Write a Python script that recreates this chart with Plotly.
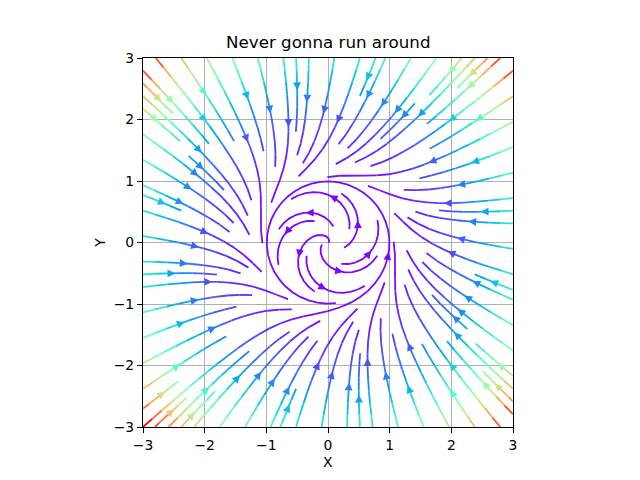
import numpy as np
import plotly.graph_objects as go

# ---- chart definition -------------------------------------------------
TITLE = "Never gonna run around"
X_LABEL = "X"
Y_LABEL = "Y"
X_RANGE = [-3.0, 3.0]
Y_RANGE = [-3.0, 3.0]
GRID_N = 100            # samples per axis of the vector field
DENSITY = 1.0           # streamline density
TICK_VALUES = [-3, -2, -1, 0, 1, 2, 3]
TICK_TEXT = ["\u22123", "\u22122", "\u22121", "0", "1", "2", "3"]
LIMIT_RADIUS = 1.0      # radius of the limit cycle

FONT = "DejaVu Sans"
LINE_WIDTH = 1.8

# ---- vector field -------------------------------------------------------
xs = np.linspace(X_RANGE[0], X_RANGE[1], GRID_N)
ys = np.linspace(Y_RANGE[0], Y_RANGE[1], GRID_N)
XX, YY = np.meshgrid(xs, ys)
R2 = XX ** 2 + YY ** 2
U = -YY + XX * (LIMIT_RADIUS ** 2 - R2)
V = XX + YY * (LIMIT_RADIUS ** 2 - R2)
SPEED = np.sqrt(U ** 2 + V ** 2)


# ---- streamline integration (matplotlib-style) -------------------------
class OutOfBounds(Exception):
    pass


class Terminate(Exception):
    pass


class InvalidIndex(Exception):
    pass


nx = ny = GRID_N
gdx = xs[1] - xs[0]
gdy = ys[1] - ys[0]
mnx = mny = int(30 * DENSITY)
mask = [[0] * mnx for _ in range(mny)]
x_g2m = (mnx - 1) / (nx - 1)
y_g2m = (mny - 1) / (ny - 1)

ug = U / gdx
vg = V / gdy
spd = np.sqrt((ug / (nx - 1)) ** 2 + (vg / (ny - 1)) ** 2)
UG = ug.tolist()
VG = vg.tolist()
SP = spd.tolist()
SC = SPEED.tolist()

state = {"cur": None, "traj": []}


def interp(a, xi, yi):
    x = int(xi)
    y = int(yi)
    xn = x if x == nx - 1 else x + 1
    yn = y if y == ny - 1 else y + 1
    xt = xi - x
    yt = yi - y
    a0 = a[y][x] * (1 - xt) + a[y][xn] * xt
    a1 = a[yn][x] * (1 - xt) + a[yn][xn] * xt
    return a0 * (1 - yt) + a1 * yt


def within(xi, yi):
    return 0 <= xi <= nx - 1 and 0 <= yi <= ny - 1


def g2m(xi, yi):
    return round(xi * x_g2m), round(yi * y_g2m)


def mask_update(xm, ym):
    if state["cur"] != (xm, ym):
        if mask[ym][xm] == 0:
            state["traj"].append((ym, xm))
            mask[ym][xm] = 1
            state["cur"] = (xm, ym)
        else:
            raise InvalidIndex


def forward(xi, yi):
    if not within(xi, yi):
        raise OutOfBounds
    ds_dt = interp(SP, xi, yi)
    if ds_dt == 0:
        raise Terminate
    dt_ds = 1.0 / ds_dt
    return interp(UG, xi, yi) * dt_ds, interp(VG, xi, yi) * dt_ds


def backward(xi, yi):
    a, b = forward(xi, yi)
    return -a, -b


def euler_step(traj, f):
    xi, yi = traj[-1]
    cx, cy = f(xi, yi)
    if cx == 0:
        dsx = np.inf
    elif cx < 0:
        dsx = xi / -cx
    else:
        dsx = (nx - 1 - xi) / cx
    if cy == 0:
        dsy = np.inf
    elif cy < 0:
        dsy = yi / -cy
    else:
        dsy = (ny - 1 - yi) / cy
    ds = min(dsx, dsy)
    traj.append((xi + cx * ds, yi + cy * ds))
    return ds, traj


def rk12(x0, y0, f, maxlength):
    maxerror = 0.003
    maxds = min(1.0 / mnx, 1.0 / mny, 0.1)
    ds = maxds
    stotal = 0.0
    xi, yi = x0, y0
    traj = []
    while True:
        try:
            if within(xi, yi):
                traj.append((xi, yi))
            else:
                raise OutOfBounds
            k1x, k1y = f(xi, yi)
            k2x, k2y = f(xi + ds * k1x, yi + ds * k1y)
        except OutOfBounds:
            if traj:
                ds, traj = euler_step(traj, f)
                stotal += ds
            break
        except Terminate:
            break
        dx1 = ds * k1x
        dy1 = ds * k1y
        dx2 = ds * 0.5 * (k1x + k2x)
        dy2 = ds * 0.5 * (k1y + k2y)
        error = np.hypot((dx2 - dx1) / (nx - 1), (dy2 - dy1) / (ny - 1))
        if error < maxerror:
            xi += dx2
            yi += dy2
            try:
                if not within(xi, yi):
                    raise InvalidIndex
                mask_update(*g2m(xi, yi))
            except InvalidIndex:
                break
            if stotal + ds > maxlength:
                break
            stotal += ds
        if error == 0:
            ds = maxds
        else:
            ds = min(maxds, 0.85 * ds * (maxerror / error) ** 0.5)
    return stotal, traj


def integrate(x0, y0, minlength=0.1, maxlength=4.0):
    state["traj"] = []
    try:
        mask_update(*g2m(x0, y0))
    except InvalidIndex:
        return None
    stotal = 0.0
    xy = []
    s, t = rk12(x0, y0, backward, maxlength)
    stotal += s
    xy += t[::-1]
    state["cur"] = g2m(x0, y0)
    s, t = rk12(x0, y0, forward, maxlength)
    stotal += s
    xy += t[1:]
    if stotal > minlength:
        return xy
    for (a, b) in state["traj"]:
        mask[a][b] = 0
    return None


def starting_points(n_y, n_x):
    xfirst, yfirst = 0, 1
    xlast, ylast = n_x - 1, n_y - 1
    x, y = 0, 0
    d = "right"
    for _ in range(n_x * n_y):
        yield x, y
        if d == "right":
            x += 1
            if x >= xlast:
                xlast -= 1
                d = "up"
        elif d == "up":
            y += 1
            if y >= ylast:
                ylast -= 1
                d = "left"
        elif d == "left":
            x -= 1
            if x <= xfirst:
                xfirst += 1
                d = "down"
        elif d == "down":
            y -= 1
            if y <= yfirst:
                yfirst += 1
                d = "right"


trajectories = []
for xm, ym in starting_points(mny, mnx):
    if mask[ym][xm] == 0:
        t = integrate(xm / x_g2m, ym / y_g2m)
        if t is not None:
            trajectories.append(t)


# ---- colours (matplotlib "rainbow") --------------------------------------
CMIN = float(SPEED.min())
CMAX = float(SPEED.max())


def rainbow_index(val):
    t = (val - CMIN) / (CMAX - CMIN)
    i = int(t * 256)
    return max(0, min(255, i))


def rainbow_color(i):
    t = i / 255.0
    r = min(1.0, abs(2 * t - 0.5))
    g = max(0.0, np.sin(np.pi * t))
    b = max(0.0, np.cos(np.pi * t / 2))
    return "rgb({},{},{})".format(int(round(r * 255)), int(round(g * 255)), int(round(b * 255)))


# ---- build traces -------------------------------------------------------
PX_PER_UNIT = 369.6 / (X_RANGE[1] - X_RANGE[0])
HEAD_LEN = 5.6 / PX_PER_UNIT
HEAD_HALF = 2.8 / PX_PER_UNIT

line_bins = {}
arrow_bins = {}
for t in trajectories:
    tg = np.array(t)
    tx = tg[:, 0] * gdx + X_RANGE[0]
    ty = tg[:, 1] * gdy + Y_RANGE[0]
    cvals = [interp(SC, a, b) for a, b in t][:-1]
    idx = [rainbow_index(c) for c in cvals]
    start = 0
    for k in range(1, len(idx) + 1):
        if k == len(idx) or idx[k] != idx[start]:
            bx, by = line_bins.setdefault(idx[start], ([], []))
            bx.extend(tx[start:k + 1].tolist() + [None])
            by.extend(ty[start:k + 1].tolist() + [None])
            start = k
    s = np.cumsum(np.hypot(np.diff(tx), np.diff(ty)))
    n = int(np.searchsorted(s, s[-1] / 2.0))
    tail = np.array([tx[n], ty[n]])
    head = np.array([np.mean(tx[n:n + 2]), np.mean(ty[n:n + 2])])
    d = head - tail
    nd = np.hypot(*d)
    if nd == 0:
        continue
    d = d / nd
    p = np.array([-d[1], d[0]])
    base = head - d * HEAD_LEN
    c1 = base + p * HEAD_HALF
    c2 = base - p * HEAD_HALF
    ax_, ay_ = arrow_bins.setdefault(idx[min(n, len(idx) - 1)], ([], []))
    ax_.extend([head[0], c1[0], c2[0], head[0], None])
    ay_.extend([head[1], c1[1], c2[1], head[1], None])

fig = go.Figure()
for i in sorted(line_bins):
    bx, by = line_bins[i]
    fig.add_trace(go.Scatter(x=bx, y=by, mode="lines",
                             line=dict(color=rainbow_color(i), width=LINE_WIDTH),
                             hoverinfo="skip", showlegend=False))
for i in sorted(arrow_bins):
    bx, by = arrow_bins[i]
    col = rainbow_color(i)
    fig.add_trace(go.Scatter(x=bx, y=by, mode="lines", fill="toself",
                             fillcolor=col, line=dict(color=col, width=1.4),
                             hoverinfo="skip", showlegend=False))

axis_common = dict(
    showgrid=True, gridcolor="#b0b0b0", gridwidth=1,
    zeroline=False, showline=True, linecolor="black", linewidth=1.1,
    mirror=True, ticks="outside", ticklen=5, tickwidth=1.1, tickcolor="black",
    tickvals=TICK_VALUES, ticktext=TICK_TEXT,
    tickfont=dict(family=FONT, size=13.9, color="black"),
)
fig.update_xaxes(range=X_RANGE, **axis_common)
fig.update_yaxes(range=Y_RANGE, **axis_common)

fig.update_layout(
    width=640, height=480,
    margin=dict(l=143, r=127, t=58, b=53),
    plot_bgcolor="white", paper_bgcolor="white",
    font=dict(family=FONT, color="black"),
    showlegend=False,
    annotations=[
        dict(text=TITLE, x=0.5, y=1, xref="paper", yref="paper",
             xanchor="center", yanchor="bottom", yshift=4, showarrow=False,
             font=dict(family=FONT, size=16.7, color="black")),
        dict(text=X_LABEL, x=0.5, y=-0.095, xref="paper", yref="paper",
             xanchor="center", yanchor="middle", showarrow=False,
             font=dict(family=FONT, size=13.9, color="black")),
        dict(text=Y_LABEL, x=-0.118, y=0.5, xref="paper", yref="paper",
             xanchor="center", yanchor="middle", textangle=-90, showarrow=False,
             font=dict(family=FONT, size=13.9, color="black")),
    ],
)

fig.write_html("out.html", config={"displayModeBar": False},
               post_script="document.body.style.margin='0';document.body.style.overflow='hidden';")
